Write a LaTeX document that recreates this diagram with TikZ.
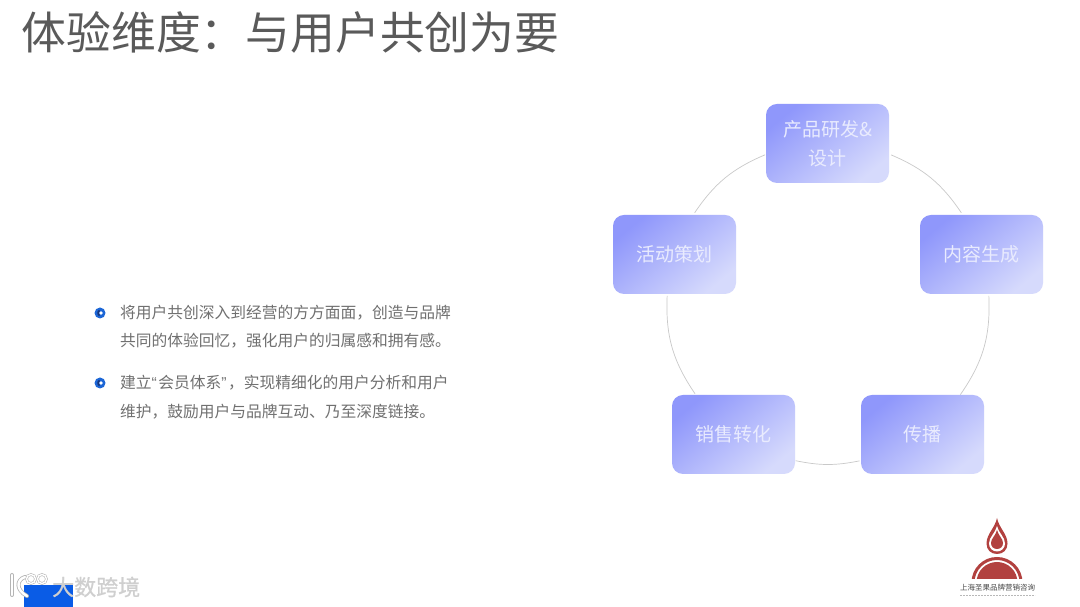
\documentclass[tikz,border=0pt]{standalone}
\usepackage{fontspec}
\setmainfont{Noto Sans CJK SC}
\newfontfamily\quotefont{Liberation Sans}
\newfontfamily\wmfont[FakeBold=0.8]{Noto Sans CJK SC}
\usetikzlibrary{calc}
\definecolor{boxA}{HTML}{8F97FB}
\definecolor{boxB}{HTML}{D6DAFC}
\definecolor{boxtxt}{HTML}{E9EBFE}
\definecolor{ringc}{HTML}{C9C9C9}
\definecolor{titlec}{HTML}{5A5A5A}
\definecolor{bodyc}{HTML}{707070}
\definecolor{bulletc}{HTML}{1C66D6}
\definecolor{bulletd}{HTML}{16357A}
\definecolor{logoc}{HTML}{B2413F}
\definecolor{wmblue}{HTML}{0A5CE6}
\definecolor{wmtxt}{HTML}{CFCFCF}
\definecolor{wmedge}{HTML}{B5B5B5}
\tikzset{
  stagebox/.style={rounded corners=11pt,minimum width=123pt,minimum height=79pt,inner sep=0pt,
    top color=boxA,bottom color=boxB,middle color=boxA!50!boxB,shading angle=40,
    text=boxtxt,align=center,font=\fontsize{19}{29}\selectfont},
  ringarc/.style={draw=ringc,line width=0.7pt},
  bodytext/.style={anchor=base west,inner sep=0pt,text=bodyc,font=\fontsize{15.75}{20}\selectfont},
  bulletdot/.style={circle,fill=bulletc,minimum size=11pt,inner sep=0pt},
  bullethole/.style={circle,fill=white,minimum size=3.6pt,inner sep=0pt},
  crescent/.style={draw=bulletd,line width=1.6pt},
  wmstroke/.style={draw=wmedge,line width=#1,line cap=round},
  wmcore/.style={draw=white,line width=#1,line cap=round},
}
\begin{document}
\begin{tikzpicture}[x=1pt,y=1pt]
\useasboundingbox (0,0) rectangle (1080,607);
\fill[white] (0,0) rectangle (1080,607);

% title
\node[anchor=base west,inner sep=0pt,text=titlec,font=\fontsize{44.8}{50}\selectfont] (title) at (21.5,557.5) {体验维度：与用户共创为要};

% bullets and text
\node[bulletdot] (b1) at (100,294) {};
\node[bullethole] (h1) at (101,294) {};
\draw[crescent] ($(h1)+(120:3pt)$) arc[start angle=120,end angle=240,radius=3pt];
\node[bulletdot] (b2) at (100,224) {};
\node[bullethole] (h2) at (101,224) {};
\draw[crescent] ($(h2)+(120:3pt)$) arc[start angle=120,end angle=240,radius=3pt];
\node[bodytext] (t1) at (120,288) {将用户共创深入到经营的方方面面，创造与品牌};
\node[bodytext] (t2) at (120,260) {共同的体验回忆，强化用户的归属感和拥有感。};
\node[bodytext] (t3) at (120,218) {建立{\quotefont “}\hspace{1.5pt}会员体系{\quotefont ”}\hspace{1.5pt}，实现精细化的用户分析和用户};
\node[bodytext] (t4) at (120,189) {维护，鼓励用户与品牌互动、乃至深度链接。};

% cycle
\coordinate (ctr) at (828,304);
\foreach \n/\a in {a1/66.9,a2/34.1,b1x/2.5,b2x/-34.7,c1/-78.7,c2/-101.6,d1/-145.7,d2/177.5,e1/145.9,e2/113}{
  \coordinate (\n) at ($(ctr)+(\a:161pt)$);
}
\draw[ringarc] (a1) to[out=-23.1,in=124.1] (a2);
\draw[ringarc] (b1x) to[out=-87.5,in=55.3] (b2x);
\draw[ringarc] (c1) to[out=-168.7,in=-11.6] (c2);
\draw[ringarc] (d1) to[out=124.3,in=-92.5] (d2);
\draw[ringarc] (e1) to[out=55.9,in=-157] (e2);

\node[stagebox] (s1) at (827.5,463.5) {产品研发\&\\设计};
\node[stagebox] (s2) at (981.5,352.5) {内容生成};
\node[stagebox] (s3) at (922.5,172.5) {传播};
\node[stagebox] (s4) at (733.5,172.5) {销售转化};
\node[stagebox] (s5) at (674.5,352.5) {活动策划};

% logo
\fill[logoc] (997,89) .. controls (995,79) and (986.5,73) .. (986.5,63.5)
  .. controls (986.5,57) and (991,53) .. (997,53)
  .. controls (1003,53) and (1007.5,57) .. (1007.5,63.5)
  .. controls (1007.5,73) and (999,79) .. (997,89) -- cycle;
\fill[white] (997,81) .. controls (995.5,74) and (989,70) .. (989,63.5)
  .. controls (989,59) and (992.5,55.5) .. (997,55.5)
  .. controls (1001.5,55.5) and (1005,59) .. (1005,63.5)
  .. controls (1005,70) and (998.5,74) .. (997,81) -- cycle;
\fill[logoc] (997,77) .. controls (995.5,71) and (991,68.5) .. (991,64)
  .. controls (991,60.5) and (993.5,58) .. (997,58)
  .. controls (1000.5,58) and (1003,60.5) .. (1003,64)
  .. controls (1003,68.5) and (998.5,71) .. (997,77) -- cycle;
\begin{scope}
  \clip (960,28) rectangle (1035,60);
  \fill[logoc,even odd rule] (997,24.5) circle[radius=25.5] (997,24.5) circle[radius=22.5];
  \fill[logoc] (997,24.5) circle[radius=20.5];
\end{scope}
\node[inner sep=0pt,text=black!72,font=\fontsize{7.5}{9}\selectfont] (lt) at (997.5,19) {上海圣果品牌营销咨询};
\draw[black!28,line width=0.8pt,dash pattern=on 2pt off 1pt] (960,12) -- (1035,12);

% watermark
\fill[wmblue] (24,0) rectangle (73,22);
\node[anchor=west,inner sep=0pt,text=wmtxt,font=\wmfont\fontsize{22}{24}\selectfont] (wm) at (52,20) {大数跨境};
\draw[wmstroke=4pt] (12,32) -- (12,12);
\draw[wmstroke=4pt] (25,30) .. controls (16,27) and (16,17) .. (27,11);
\draw[wmstroke=2.6pt] (31,28) circle[radius=4.5];
\draw[wmstroke=2.6pt] (42,28) circle[radius=4.5];
\draw[wmcore=2.4pt] (12,32) -- (12,12);
\draw[wmcore=2.4pt] (25,30) .. controls (16,27) and (16,17) .. (27,11);
\draw[wmcore=1.4pt] (31,28) circle[radius=4.5];
\draw[wmcore=1.4pt] (42,28) circle[radius=4.5];
\end{tikzpicture}
\end{document}
